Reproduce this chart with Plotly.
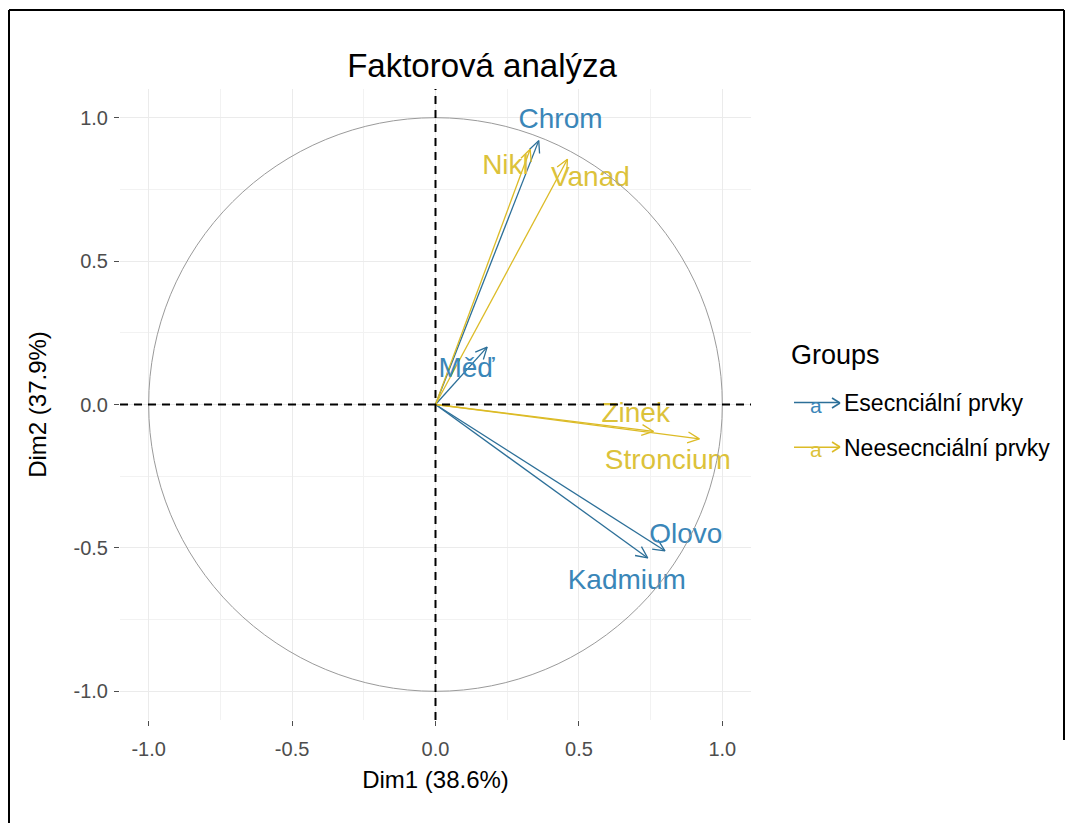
import numpy as np
import plotly.graph_objects as go

# ---------------- data ----------------
variables = ["Chrom", "Nikl", "Vanad", "Měď", "Zinek", "Stroncium", "Olovo", "Kadmium"]
dim1 = [0.36, 0.33, 0.46, 0.18, 0.76, 0.92, 0.80, 0.74]
dim2 = [0.92, 0.89, 0.855, 0.20, -0.094, -0.12, -0.51, -0.535]
groups = ["Esecnciální prvky", "Neesecnciální prvky", "Neesecnciální prvky", "Esecnciální prvky",
          "Neesecnciální prvky", "Neesecnciální prvky", "Esecnciální prvky", "Esecnciální prvky"]
group_names = ["Esecnciální prvky", "Neesecnciální prvky"]
# label offsets (repelled text positions relative to arrow tips)
label_dx = [0.076, -0.086, 0.08, -0.072, -0.062, -0.11, 0.073, -0.073]
label_dy = [0.068, -0.063, -0.07, -0.078, 0.059, -0.08, 0.05, -0.083]
tick_vals = [-1.0, -0.5, 0.0, 0.5, 1.0]
tick_text = ["-1.0", "-0.5", "0.0", "0.5", "1.0"]

line_colors = {"Esecnciální prvky": "#2c6f98", "Neesecnciální prvky": "#dcbb26"}
text_colors = {"Esecnciální prvky": "#3a86b8", "Neesecnciální prvky": "#dcc23a"}

FONT = "Liberation Sans, Arial, sans-serif"
OFF = 8  # page body margin
W, H = 1073 - OFF, 823 - OFF
ML, MT = 120 - OFF, 89 - OFF
PW = PH = 631
MR, MB = W - ML - PW, H - MT - PH


def px(p):  # page x pixel -> paper
    return (p - OFF - ML) / PW


def py(p):  # page y pixel -> paper
    return (MT + PH - (p - OFF)) / PH


fig = go.Figure()

head_len = 0.045
head_ang = np.deg2rad(25)

for g in group_names:
    xs, ys = [], []
    for v, x, y, gg in zip(variables, dim1, dim2, groups):
        if gg != g:
            continue
        th = np.arctan2(y, x)
        xs += [0, x, None]
        ys += [0, y, None]
        xs += [x - head_len * np.cos(th + head_ang), x, x - head_len * np.cos(th - head_ang), None]
        ys += [y - head_len * np.sin(th + head_ang), y, y - head_len * np.sin(th - head_ang), None]
    fig.add_trace(go.Scatter(
        x=xs, y=ys, mode="lines", line=dict(color=line_colors[g], width=1.3),
        name=g, legendgroup=g, showlegend=False, hoverinfo="skip"))

for g in group_names:
    lx = [x + dx for x, dx, gg in zip(dim1, label_dx, groups) if gg == g]
    ly = [y + dy for y, dy, gg in zip(dim2, label_dy, groups) if gg == g]
    lt = [v for v, gg in zip(variables, groups) if gg == g]
    fig.add_trace(go.Scatter(
        x=lx, y=ly, mode="text", text=lt,
        textfont=dict(family=FONT, size=28, color=text_colors[g]),
        showlegend=False, hoverinfo="text"))

# legend entries
for g in group_names:
    fig.add_trace(go.Scatter(
        x=[None], y=[None], mode="lines",
        line=dict(color=line_colors[g], width=1.5),
        name=g, legendgroup=g, showlegend=True))

shapes = [
    dict(type="circle", xref="x", yref="y", x0=-1, y0=-1, x1=1, y1=1,
         line=dict(color="#9a9a9a", width=1), layer="above"),
    dict(type="line", xref="paper", yref="y", x0=0, x1=1, y0=0, y1=0,
         line=dict(color="black", width=2, dash="8px,6px"), layer="above"),
    dict(type="line", xref="x", yref="paper", x0=0, x1=0, y0=0, y1=1,
         line=dict(color="black", width=2, dash="8px,6px"), layer="above"),
    # outer frame
    dict(type="line", xref="paper", yref="paper", x0=px(9), x1=px(9), y0=py(10), y1=py(830),
         line=dict(color="black", width=2)),
    dict(type="line", xref="paper", yref="paper", x0=px(9), x1=px(1064), y0=py(10), y1=py(10),
         line=dict(color="black", width=2)),
    dict(type="line", xref="paper", yref="paper", x0=px(1064), x1=px(1064), y0=py(10), y1=py(740),
         line=dict(color="black", width=2)),
]

legend_rows = [403, 447]
key_end = 840
annotations = [
    dict(text="Groups", xref="paper", yref="paper", x=px(789), y=py(355),
         xanchor="left", yanchor="middle", showarrow=False,
         font=dict(family=FONT, size=27, color="black")),
]
for g, row in zip(group_names, legend_rows):
    annotations.append(dict(text="a", xref="paper", yref="paper", x=px(816), y=py(row + 3),
                            xanchor="center", yanchor="middle", showarrow=False,
                            font=dict(family=FONT, size=21, color=text_colors[g])))
    for dy in (-5, 5):
        shapes.append(dict(type="line", xref="paper", yref="paper",
                           x0=px(key_end - 8), y0=py(row + dy), x1=px(key_end), y1=py(row),
                           line=dict(color=line_colors[g], width=1.5)))

axis_common = dict(
    range=[-1.1, 1.1], tickvals=tick_vals, ticktext=tick_text,
    showgrid=True, gridcolor="#ebebeb", gridwidth=1.2,
    minor=dict(dtick=0.25, showgrid=True, gridcolor="#f2f2f2", gridwidth=1),
    zeroline=False, showline=False,
    ticks="outside", ticklen=5, tickwidth=1, tickcolor="#4d4d4d",
    tickfont=dict(family=FONT, size=20, color="#4d4d4d"),
    fixedrange=True,
)

fig.update_layout(
    width=W, height=H,
    margin=dict(l=ML, r=MR, t=MT, b=MB),
    paper_bgcolor="white", plot_bgcolor="white",
    title=dict(text="Faktorová analýza", x=(482 - OFF) / W, y=1 - (65 - OFF) / H,
               xanchor="center", yanchor="middle",
               font=dict(family=FONT, size=33, color="black")),
    xaxis=dict(axis_common, ticklabelstandoff=6,
               title=dict(text="Dim1 (38.6%)", standoff=12,
                          font=dict(family=FONT, size=24, color="black"))),
    yaxis=dict(axis_common, ticklabelstandoff=2,
               title=dict(text="Dim2 (37.9%)", standoff=20,
                          font=dict(family=FONT, size=24, color="black")),
               scaleanchor="x", scaleratio=1),
    shapes=shapes,
    annotations=annotations,
    showlegend=True,
    legend=dict(x=px(789), y=py(381), xanchor="left", yanchor="top",
                itemwidth=45,
                font=dict(family=FONT, size=23, color="black"),
                tracegroupgap=12, bgcolor="rgba(0,0,0,0)"),
)

fig.write_html("out.html")
